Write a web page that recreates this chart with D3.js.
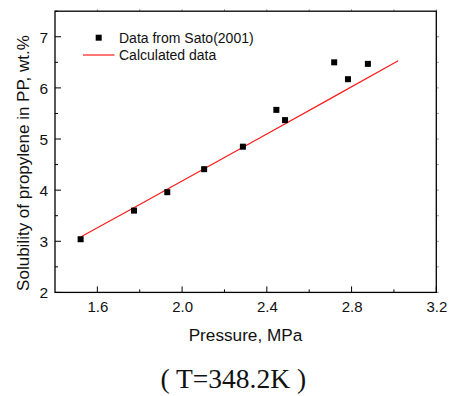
<!DOCTYPE html>
<html>
<head>
<meta charset="utf-8">
<script src="https://cdn.jsdelivr.net/npm/d3@7"></script>
<style>
  html, body { margin: 0; padding: 0; background: #fff; }
  svg { display: block; }
</style>
</head>
<body>
<script>
// Data
const satoPressure = [1.521, 1.773, 1.930, 2.104, 2.287, 2.445, 2.486, 2.718, 2.783, 2.877];
const satoSolubility = [3.04, 3.60, 3.96, 4.41, 4.85, 5.57, 5.37, 6.50, 6.17, 6.47];
const calcPressure = [1.523, 1.8, 2.1, 2.4, 2.7, 3.02];
const calcSolubility = [3.09, 3.72, 4.41, 5.10, 5.79, 6.53];
const xTicks = [1.6, 2.0, 2.4, 2.8, 3.2];
const xMinor = [1.8, 2.2, 2.6, 3.0];
const yTicks = [2, 3, 4, 5, 6, 7];
const yMinor = [2.5, 3.5, 4.5, 5.5, 6.5, 7.5];
const legendLabels = ["Data from Sato(2001)", "Calculated data"];
const xTitle = "Pressure, MPa";
const yTitle = "Solubility of propylene in PP, wt.%";
const caption = "( T=348.2K )";

const W = 451, H = 396;
const svg = d3.select("body").append("svg").attr("width", W).attr("height", H);

const x = d3.scaleLinear().domain([1.4, 3.2]).range([55, 436.3]);
const y = d3.scaleLinear().domain([2, 7.5]).range([292.4, 11.2]);

const sans = "Arial, 'Liberation Sans', Helvetica, sans-serif";

// top & right faint outward ticks
const topTicks = d3.range(1.6, 3.21, 0.2);
svg.append("g").selectAll("line").data(topTicks).join("line")
  .attr("x1", d => x(d)).attr("x2", d => x(d))
  .attr("y1", y(7.5)).attr("y2", y(7.5) - 2)
  .attr("stroke", "#999").attr("stroke-width", 1);
svg.append("g").selectAll("line").data(yTicks.concat(yMinor.slice(0, 5)).concat([7])).join("line")
  .attr("x1", x(3.2)).attr("x2", x(3.2) + 2.5)
  .attr("y1", d => y(d)).attr("y2", d => y(d))
  .attr("stroke", "#999").attr("stroke-width", 1);

// frame
svg.append("rect")
  .attr("x", x(1.4)).attr("y", y(7.5))
  .attr("width", x(3.2) - x(1.4)).attr("height", y(2) - y(7.5))
  .attr("fill", "none").attr("stroke", "#000").attr("stroke-width", 1.3);

// bottom axis
const xAxis = d3.axisBottom(x).tickValues(xTicks).tickSize(0).tickPadding(0)
  .tickFormat(d3.format(".1f"));
const gx = svg.append("g").attr("transform", `translate(0,${y(2)})`).call(xAxis);
gx.select(".domain").remove();
gx.selectAll("text").attr("font-family", sans).attr("font-size", 15)
  .attr("fill", "#111").attr("y", 0).attr("dy", null)
  .attr("transform", "translate(0,20)");
gx.selectAll(".tick line").remove();
svg.append("g").selectAll("line").data(xTicks).join("line")
  .attr("x1", d => x(d)).attr("x2", d => x(d))
  .attr("y1", y(2)).attr("y2", y(2) - 6)
  .attr("stroke", "#000").attr("stroke-width", 1);
svg.append("g").selectAll("line").data(xMinor).join("line")
  .attr("x1", d => x(d)).attr("x2", d => x(d))
  .attr("y1", y(2)).attr("y2", y(2) - 3)
  .attr("stroke", "#000").attr("stroke-width", 1);

// left axis
const yAxis = d3.axisLeft(y).tickValues(yTicks).tickSize(0).tickPadding(7)
  .tickFormat(d3.format("d"));
const gy = svg.append("g").attr("transform", `translate(${x(1.4)},0)`).call(yAxis);
gy.select(".domain").remove();
gy.selectAll(".tick line").remove();
gy.selectAll("text").attr("font-family", sans).attr("font-size", 15.5)
  .attr("fill", "#111").attr("dy", "0.36em");
svg.append("g").selectAll("line").data(yTicks).join("line")
  .attr("x1", x(1.4)).attr("x2", x(1.4) + 6)
  .attr("y1", d => y(d)).attr("y2", d => y(d))
  .attr("stroke", "#000").attr("stroke-width", 1);
svg.append("g").selectAll("line").data(yMinor).join("line")
  .attr("x1", x(1.4)).attr("x2", x(1.4) + 3)
  .attr("y1", d => y(d)).attr("y2", d => y(d))
  .attr("stroke", "#000").attr("stroke-width", 1);

// axis titles
svg.append("text").attr("x", 245.5).attr("y", 340.5)
  .attr("text-anchor", "middle").attr("font-family", sans).attr("font-size", 17.2)
  .attr("fill", "#111").text(xTitle);
svg.append("text").attr("transform", "translate(29,163) rotate(-90)")
  .attr("text-anchor", "middle").attr("font-family", sans).attr("font-size", 17)
  .attr("fill", "#111").text(yTitle);

// calculated line
const calc = calcPressure.map((p, i) => [p, calcSolubility[i]]);
svg.append("path").datum(calc)
  .attr("d", d3.line().x(d => x(d[0])).y(d => y(d[1])))
  .attr("fill", "none").attr("stroke", "#ff1a1a").attr("stroke-width", 1.2);

// data squares
const pts = satoPressure.map((p, i) => [p, satoSolubility[i]]);
const s = 6;
svg.append("g").selectAll("rect").data(pts).join("rect")
  .attr("x", d => x(d[0]) - s / 2).attr("y", d => y(d[1]) - s / 2)
  .attr("width", s).attr("height", s).attr("fill", "#000");

// legend
const lg = svg.append("g");
lg.append("rect").attr("x", 98.7 - s / 2).attr("y", 37.7 - s / 2)
  .attr("width", s).attr("height", s).attr("fill", "#000");
lg.append("text").attr("x", 119).attr("y", 42.8)
  .attr("font-family", sans).attr("font-size", 14).attr("fill", "#111")
  .text(legendLabels[0]);
lg.append("line").attr("x1", 83).attr("x2", 114.5).attr("y1", 55).attr("y2", 55)
  .attr("stroke", "#ff1a1a").attr("stroke-width", 1.2);
lg.append("text").attr("x", 119).attr("y", 60.2)
  .attr("font-family", sans).attr("font-size", 14).attr("fill", "#111")
  .text(legendLabels[1]);

// caption
svg.append("text").attr("x", 233.3).attr("y", 388.3)
  .attr("text-anchor", "middle")
  .attr("font-family", "'Times New Roman', 'Liberation Serif', Times, serif")
  .attr("font-size", 27.5).attr("fill", "#111").text(caption);
</script>
</body>
</html>
